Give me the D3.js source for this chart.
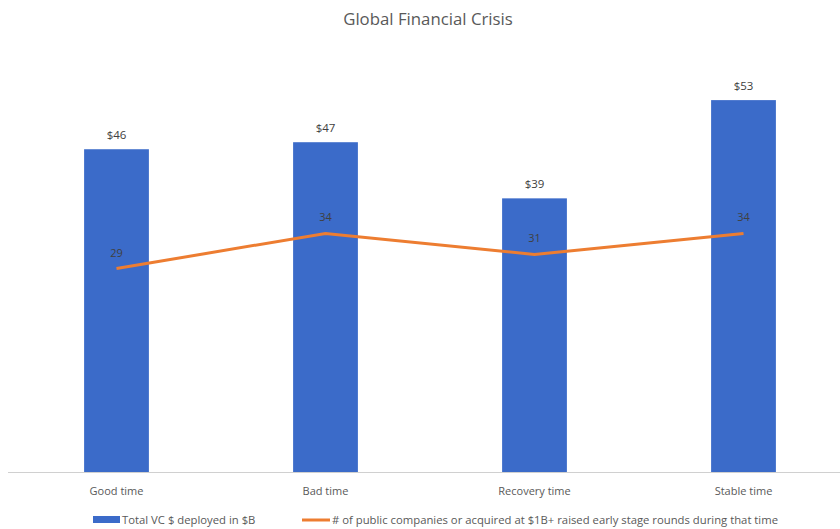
<!DOCTYPE html>
<html>
<head>
<meta charset="utf-8">
<script src="https://d3js.org/d3.v7.min.js"></script>
<style>
  html, body { margin: 0; padding: 0; background: #fff; }
  svg text { font-family: "Open Sans", "Liberation Sans", sans-serif; }
</style>
</head>
<body>
<div id="chart"></div>
<script>
var categories = ["Good time", "Bad time", "Recovery time", "Stable time"];
var vcDeployed = [46, 47, 39, 53];
var companies = [29, 34, 31, 34];
var barLabels = ["$46", "$47", "$39", "$53"];
var seriesNames = ["Total VC $ deployed in $B",
  "# of public companies or acquired at $1B+ raised early stage rounds during that time"];

var width = 840, height = 529;
var svg = d3.select("#chart").append("svg")
  .attr("width", width).attr("height", height);

var x = d3.scaleBand().domain(categories).range([12, 848]).paddingInner(0.69).paddingOuter(0.345);
var y = d3.scaleLinear().domain([0, 60]).range([472, 51]);

svg.append("text")
  .attr("x", 428).attr("y", 25)
  .attr("text-anchor", "middle")
  .attr("fill", "#595959")
  .style("font-size", "16.8px")
  .text("Global Financial Crisis");

// bars
svg.selectAll(".bar").data(vcDeployed).enter().append("rect")
  .attr("x", function (d, i) { return x(categories[i]); })
  .attr("width", x.bandwidth())
  .attr("y", function (d) { return y(d); })
  .attr("height", function (d) { return y(0) - y(d); })
  .attr("fill", "#3b6bc9");

svg.selectAll(".barlab").data(vcDeployed).enter().append("text")
  .attr("x", function (d, i) { return x(categories[i]) + x.bandwidth() / 2; })
  .attr("y", function (d) { return y(d) - 10; })
  .attr("text-anchor", "middle")
  .attr("fill", "#404040")
  .style("font-size", "11.5px")
  .text(function (d, i) { return barLabels[i]; });

// axis line
var xAxis = svg.append("g").attr("transform", "translate(0," + y(0) + ")")
  .call(d3.axisBottom(x).tickSize(0).tickPadding(15));
xAxis.select(".domain").attr("d", "M8,0.5H840").attr("stroke", "#d0d0d0");
xAxis.selectAll("text")
  .attr("fill", "#595959")
  .style("font-size", "11px")
  .style("font-family", "'Open Sans', sans-serif");

// line
var line = d3.line()
  .x(function (d, i) { return x(categories[i]) + x.bandwidth() / 2; })
  .y(function (d) { return y(d); });

svg.append("path").datum(companies)
  .attr("d", line)
  .attr("fill", "none")
  .attr("stroke", "#ed7d31")
  .attr("stroke-width", 3);

svg.selectAll(".linelab").data(companies).enter().append("text")
  .attr("x", function (d, i) { return x(categories[i]) + x.bandwidth() / 2; })
  .attr("y", function (d) { return y(d) - 12; })
  .attr("text-anchor", "middle")
  .attr("fill", "#404040")
  .style("font-size", "11px")
  .text(function (d) { return d; });

// legend
var lg = svg.append("g");
lg.append("rect").attr("x", 93).attr("y", 516).attr("width", 27).attr("height", 7).attr("fill", "#3b6bc9");
lg.append("text").attr("x", 122).attr("y", 524).attr("fill", "#595959")
  .style("font-size", "11.3px").text(seriesNames[0]);
lg.append("line").attr("x1", 302).attr("x2", 330).attr("y1", 520).attr("y2", 520)
  .attr("stroke", "#ed7d31").attr("stroke-width", 3);
lg.append("text").attr("x", 332).attr("y", 524).attr("fill", "#595959")
  .style("font-size", "11.3px").text(seriesNames[1]);
</script>
</body>
</html>
